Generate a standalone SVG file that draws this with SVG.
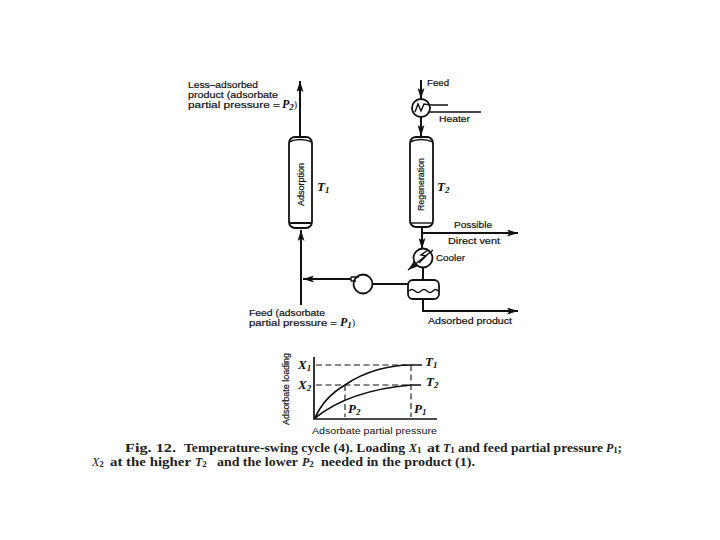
<svg xmlns="http://www.w3.org/2000/svg" width="720" height="540" viewBox="0 0 720 540">
<style>
.l{fill:none;stroke:#111;stroke-width:2}
.t{fill:none;stroke:#111;stroke-width:1.4}
.k{fill:none;stroke:#111;stroke-width:1.7}
.d{fill:none;stroke:#111;stroke-width:1.1;stroke-dasharray:6 3.5}
.b{fill:#fff;stroke:#111;stroke-width:1.8}
.s{font-family:"Liberation Sans",Arial,sans-serif;font-size:9.500px;fill:#111;stroke:#111;stroke-width:.2}
.m{font-family:"Liberation Serif","Times New Roman",serif;font-style:italic;font-weight:bold;font-size:13px;fill:#111}
.u{font-size:9px}
.c{font-family:"Liberation Serif","Times New Roman",serif;font-weight:bold;font-size:12px;fill:#222}
.i{font-style:italic}
</style>
<defs>
<marker id="a" markerUnits="userSpaceOnUse" markerWidth="12" markerHeight="7" refX="11" refY="3.500" orient="auto"><path d="M0 0L11 3.500L0 7L2.500 3.500Z" fill="#111"/></marker>
</defs>
<rect width="720" height="540" fill="#fff"/>
<g id="connectors">
<path class="l" d="M300 137V81" marker-end="url(#a)"/>
<path class="l" d="M301 305V230" marker-end="url(#a)"/>
<path class="l" d="M351 279H303" marker-end="url(#a)"/>
<path class="l" d="M373 284H408"/>
<path class="l" d="M421 80V99" marker-end="url(#a)"/>
<path class="l" d="M421 117V136" marker-end="url(#a)"/>
<path class="t" d="M430 105H448M428 112H481"/>
<path class="l" d="M422 233H518" marker-end="url(#a)"/>
<path class="l" d="M422 227V249" marker-end="url(#a)"/>
<path class="l" d="M423 268V280"/>
<path class="l" d="M423 299V311H518" marker-end="url(#a)"/>
</g>
<g id="adsorption">
<rect class="b" x="289" y="137" width="23" height="91" rx="6"/>
<path class="t" d="M289 142Q300 137 312 142"/>
<path class="l" d="M290 223H311"/>
<text class="s" transform="translate(304 206) rotate(-90)" textLength="43" lengthAdjust="spacingAndGlyphs">Adsorption</text>
<text class="m" x="317" y="191">T<tspan class="u" dy="2">1</tspan></text>
</g>
<g id="regeneration">
<rect class="b" x="410" y="137" width="23" height="90" rx="6"/>
<path class="t" d="M410 142Q421 137 433 142"/>
<path class="t" d="M410 223H433"/>
<text class="s" transform="translate(424 211) rotate(-90)" textLength="53" lengthAdjust="spacingAndGlyphs">Regeneration</text>
<text class="m" x="437" y="191">T<tspan class="u" dy="2">2</tspan></text>
</g>
<g id="heater">
<circle class="b" cx="421" cy="108" r="9"/>
<path class="t" d="M415 112L418 104L421 111L424 104L430 105"/>
</g>
<g id="cooler">
<circle class="b" cx="423" cy="258" r="9.500"/>
<path class="t" d="M419 263L426 256L421 255L428 250"/>
<path class="t" d="M433 250L408 270" marker-end="url(#a)"/>
</g>
<g id="pump">
<circle class="b" cx="363" cy="284" r="9.500"/>
<path class="t" d="M351 277H359M351 281H356M351 277V281"/>
</g>
<g id="separator">
<rect class="b" x="408" y="280" width="31" height="19" rx="5"/>
<path class="t" d="M409 291Q412 288 415 291T421 291T427 291T433 291T438 291"/>
</g>
<g id="labels">
<text class="s" x="188" y="88" textLength="70" lengthAdjust="spacingAndGlyphs">Less–adsorbed</text>
<text class="s" x="188" y="98" textLength="90" lengthAdjust="spacingAndGlyphs">product (adsorbate</text>
<text class="s" x="188" y="108" textLength="92" lengthAdjust="spacingAndGlyphs">partial pressure =</text>
<text class="m" x="282" y="108" style="font-size:12px">P<tspan class="u" dy="1.500">2</tspan><tspan font-style="normal" font-weight="normal" font-size="10" dy="-1.500">)</tspan></text>
<text class="s" x="427" y="86" textLength="22" lengthAdjust="spacingAndGlyphs">Feed</text>
<text class="s" x="439" y="122" textLength="31" lengthAdjust="spacingAndGlyphs">Heater</text>
<text class="s" x="454" y="228" textLength="38" lengthAdjust="spacingAndGlyphs">Possible</text>
<text class="s" x="448" y="244" textLength="52" lengthAdjust="spacingAndGlyphs">Direct vent</text>
<text class="s" x="436" y="261" textLength="29" lengthAdjust="spacingAndGlyphs">Cooler</text>
<text class="s" x="249" y="316" textLength="76" lengthAdjust="spacingAndGlyphs">Feed (adsorbate</text>
<text class="s" x="249" y="326" textLength="88" lengthAdjust="spacingAndGlyphs">partial pressure =</text>
<text class="m" x="340" y="326" style="font-size:12px">P<tspan class="u" dy="1.500">1</tspan><tspan font-style="normal" font-weight="normal" font-size="10" dy="-1.500">)</tspan></text>
<text class="s" x="428" y="324" textLength="84" lengthAdjust="spacingAndGlyphs">Adsorbed product</text>
</g>
<g id="chart">
<path class="k" d="M314 357V419H437"/>
<path class="d" d="M316 365H412M316 385H410M345 385V417M411 365V417"/>
<path class="k" d="M315 418C322 402 333 392 345 385C365 371 390 365 411 365H422"/>
<path class="k" d="M315 418C335 402 365 389 411 385H421"/>
<text class="s" transform="translate(289 425) rotate(-90)" textLength="72" lengthAdjust="spacingAndGlyphs">Adsorbate loading</text>
<text class="m" x="298" y="369">X<tspan class="u" dy="2">1</tspan></text>
<text class="m" x="298" y="389">X<tspan class="u" dy="2">2</tspan></text>
<text class="m" x="425" y="366">T<tspan class="u" dy="2">1</tspan></text>
<text class="m" x="426" y="386">T<tspan class="u" dy="2">2</tspan></text>
<text class="m" x="348" y="413">P<tspan class="u" dy="2">2</tspan></text>
<text class="m" x="414" y="413">P<tspan class="u" dy="2">1</tspan></text>
<text class="s" x="312" y="434" style="stroke-width:0" textLength="125" lengthAdjust="spacingAndGlyphs">Adsorbate partial pressure</text>
</g>
<g id="caption">
<text class="c" x="125" y="452" textLength="51" lengthAdjust="spacingAndGlyphs">Fig. 12.</text>
<text class="c" x="184" y="452" textLength="221" lengthAdjust="spacingAndGlyphs">Temperature-swing cycle (4). Loading</text>
<text class="c" x="409" y="452"><tspan class="i">X</tspan><tspan class="u" dy="1">1</tspan></text>
<text class="c" x="427" y="452" textLength="13" lengthAdjust="spacingAndGlyphs">at</text>
<text class="c" x="443" y="452"><tspan class="i">T</tspan><tspan class="u" dy="1">1</tspan></text>
<text class="c" x="458" y="452" textLength="145" lengthAdjust="spacingAndGlyphs">and feed partial pressure</text>
<text class="c" x="606" y="452"><tspan class="i">P</tspan><tspan class="u" dy="1">1</tspan><tspan dy="-1">;</tspan></text>
<text class="c" x="92" y="466"><tspan class="i" font-weight="normal">X</tspan><tspan class="u" dy="1">2</tspan></text>
<text class="c" x="110" y="466" textLength="81" lengthAdjust="spacingAndGlyphs">at the higher</text>
<text class="c" x="195" y="466"><tspan class="i">T</tspan><tspan class="u" dy="1">2</tspan></text>
<text class="c" x="217" y="466" textLength="81" lengthAdjust="spacingAndGlyphs">and the lower</text>
<text class="c" x="302" y="466"><tspan class="i">P</tspan><tspan class="u" dy="1">2</tspan></text>
<text class="c" x="321" y="466" textLength="154" lengthAdjust="spacingAndGlyphs">needed in the product (1).</text>
</g>
</svg>
